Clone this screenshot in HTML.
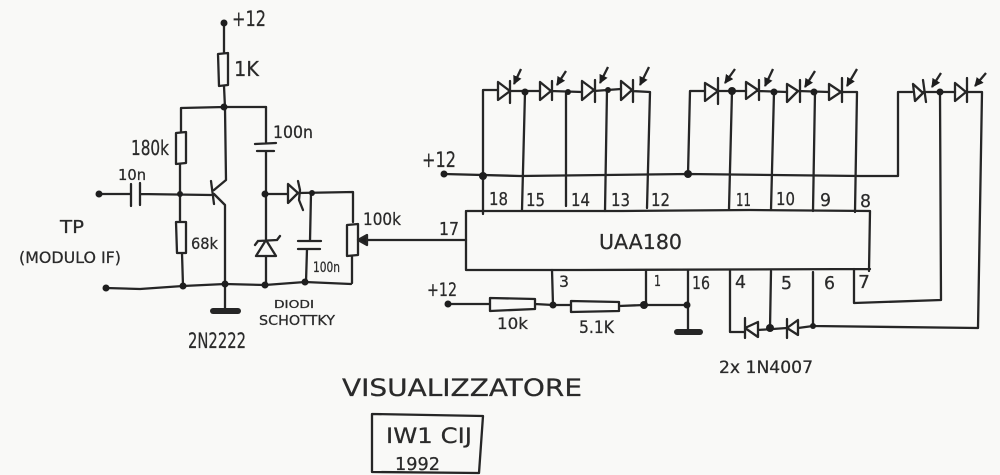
<!DOCTYPE html>
<html><head><meta charset="utf-8"><style>
html,body{margin:0;padding:0;background:#f9f9f7}
svg{display:block}
text{font-family:"DejaVu Sans","Liberation Sans",sans-serif;fill:#2a2a2a;stroke:#2a2a2a;stroke-width:.25}
</style></head><body>
<svg width="1000" height="475" viewBox="0 0 1000 475" xmlns="http://www.w3.org/2000/svg">
<defs>
<marker id="a" markerUnits="userSpaceOnUse" markerWidth="10" markerHeight="10" refX="8" refY="4.5" orient="auto"><path d="M0 0L9 4.5L0 9Z" fill="#1e1e1e"/></marker>
</defs>
<rect width="1000" height="475" fill="#f9f9f7"/>
<g fill="none" stroke="#262626" stroke-width="2.3" stroke-linejoin="round" stroke-linecap="round">
<!-- transistor stage -->
<path d="M224 23L224 53M224 86L225 108M181 108L224 107L266 107M181 108L181 132M180 164L180 194"/>
<path d="M218 54L228 53L228 85L219 86Z"/>
<path d="M176 133L186 132L186 163L176 164Z"/>
<path d="M99 194L131 194M140 194L211 195M131 184L131 206M140 183L140 205"/>
<path d="M211 181L214 204M214 190L226 180L225 108M214 194L225 205L225 285"/>
<path d="M180 194L180 222M176 222L186 222L186 253L177 253ZM182 253L183 286"/>
<path d="M266 107L266 143M255 144L276 143M257 151L274 151M266 151L266 240M266 256L266 285"/>
<path d="M266 240L256 256L276 256ZM258 241L277 240L280 236M258 241L255 245"/>
<path d="M265 194L288 194M288 184L288 203L298 193ZM298 181L300 190L299 200L303 210M298 193L353 192L353 222"/>
<path d="M311 193L310 241M298 241L321 241M298 249L320 249M307 249L306 282"/>
<path d="M347 225L358 224L358 255L347 256ZM352 256L352 283"/>
<path d="M106 288L140 289L183 286L225 284L265 285L305 282L351 284"/>
<path d="M225 284L225 311"/>
<path d="M213 311L238 311" stroke-width="6"/>
<!-- input to IC -->
<path d="M362 240L466 240"/>
<path d="M467 211L622 211L750 210L870 211L869 271M466 211L466 270L580 270L870 269"/>
<path d="M367 235L358 240L367 245Z" fill="#1e1e1e"/>
<!-- +12 rail -->
<path d="M444 174L520 176L688 174L860 176L898 176L898 92L912 92"/>
<!-- LED group 1 -->
<path d="M483 214L483 90L498 90M498 82L498 100L510 91ZM510 81L510 103M510 91L540 91M525 92L522 210"/>
<path d="M540 82L540 100L551 91ZM552 81L552 100M551 91L582 92M566 92L566 206"/>
<path d="M582 81L582 100L594 90ZM595 80L595 102M594 91L621 89M607 90L605 211"/>
<path d="M621 81L621 100L632 90ZM633 80L633 102M632 91L650 92L647 208"/>
<!-- LED group 2 -->
<path d="M688 174L690 91L705 91M705 83L705 101L718 91ZM718 78L718 104M718 91L746 91M732 91L729 209"/>
<path d="M746 82L746 99L758 90ZM759 80L759 100M758 91L787 92M774 92L771 210"/>
<path d="M787 84L787 102L798 91ZM800 80L800 102M798 91L829 92M815 92L813 211"/>
<path d="M829 84L829 100L841 92ZM842 78L842 102M841 92L857 92L855 212"/>
<!-- LED group 3 -->
<path d="M913 84L915 101L923 93ZM923 80L926 102M923 92L955 92M940 92L941 300L854 303L854 269"/>
<path d="M955 83L955 101L966 92ZM967 78L967 102M966 92L982 92L978 328L813 326L813 272"/>
<!-- bottom resistors -->
<path d="M448 304L490 304M490 298L535 299L535 309L490 311ZM535 304L553 305L552 270"/>
<path d="M553 305L571 305M571 301L619 302L619 311L571 312ZM619 306L644 305L687 305M646 305L646 270"/>
<path d="M688 270L688 331"/>
<path d="M677 332L700 332" stroke-width="6"/>
<!-- bottom diodes -->
<path d="M730 270L730 332L745 332M745 318L745 338M745 328L758 322L758 337ZM758 330L787 328M771 271L770 328M787 319L787 338M787 328L798 320L798 335ZM798 328L813 326"/>
<!-- title box -->
<path d="M372 414L483 416L479 473L372 472Z"/>
</g>
<!-- LED arrows -->
<g stroke="#262626" stroke-width="2.3">
<path d="M521 69L514 84" marker-end="url(#a)"/>
<path d="M566 71L557 85" marker-end="url(#a)"/>
<path d="M608 67L600 83" marker-end="url(#a)"/>
<path d="M649 67L640 85" marker-end="url(#a)"/>
<path d="M735 69L725 83" marker-end="url(#a)"/>
<path d="M773 69L765 86" marker-end="url(#a)"/>
<path d="M815 71L805 87" marker-end="url(#a)"/>
<path d="M857 69L847 86" marker-end="url(#a)"/>
<path d="M941 73L932 87" marker-end="url(#a)"/>
<path d="M986 73L975 86" marker-end="url(#a)"/>
</g>
<!-- junction dots -->
<g fill="#1e1e1e">
<circle cx="224" cy="23" r="3.5"/><circle cx="224" cy="107" r="3.5"/><circle cx="99" cy="194" r="3.5"/>
<circle cx="180" cy="194" r="3"/><circle cx="265" cy="194" r="3.5"/><circle cx="312" cy="193" r="3"/>
<circle cx="106" cy="288" r="3.5"/><circle cx="183" cy="286" r="3.5"/><circle cx="225" cy="284" r="3.5"/>
<circle cx="265" cy="285" r="3.5"/><circle cx="305" cy="282" r="3.5"/>
<circle cx="444" cy="174" r="3.5"/><circle cx="483" cy="176" r="4"/><circle cx="688" cy="174" r="4"/>
<circle cx="525" cy="92" r="3.5"/><circle cx="568" cy="92" r="3"/><circle cx="608" cy="90" r="3"/>
<circle cx="732" cy="91" r="4"/><circle cx="774" cy="92" r="3.5"/><circle cx="814" cy="92" r="3.5"/>
<circle cx="940" cy="92" r="3.5"/>
<circle cx="448" cy="304" r="3.5"/><circle cx="553" cy="305" r="3.5"/><circle cx="644" cy="305" r="4"/><circle cx="687" cy="305" r="3.5"/>
<circle cx="770" cy="328" r="4"/><circle cx="813" cy="326" r="3"/>
</g>
<!-- labels -->
<text lengthAdjust="spacingAndGlyphs" x="232" y="26" font-size="21" textLength="34">+12</text>
<text lengthAdjust="spacingAndGlyphs" x="234" y="76" font-size="20" textLength="25">1K</text>
<text lengthAdjust="spacingAndGlyphs" x="131" y="155" font-size="20" textLength="38">180k</text>
<text lengthAdjust="spacingAndGlyphs" x="118" y="180" font-size="15" textLength="28">10n</text>
<text lengthAdjust="spacingAndGlyphs" x="273" y="138" font-size="17" textLength="40">100n</text>
<text lengthAdjust="spacingAndGlyphs" x="60" y="233" font-size="18" textLength="24">TP</text>
<text lengthAdjust="spacingAndGlyphs" x="19" y="263" font-size="16" textLength="102">(MODULO IF)</text>
<text lengthAdjust="spacingAndGlyphs" x="191" y="249" font-size="16" textLength="27">68k</text>
<text lengthAdjust="spacingAndGlyphs" x="313" y="272" font-size="14" textLength="27">100n</text>
<text lengthAdjust="spacingAndGlyphs" x="363" y="225" font-size="17" textLength="38">100k</text>
<text lengthAdjust="spacingAndGlyphs" x="274" y="308" font-size="11" textLength="40">DIODI</text>
<text lengthAdjust="spacingAndGlyphs" x="259" y="325" font-size="13" textLength="76">SCHOTTKY</text>
<text lengthAdjust="spacingAndGlyphs" x="188" y="348" font-size="21" textLength="58">2N2222</text>
<text lengthAdjust="spacingAndGlyphs" x="342" y="396" font-size="24" textLength="240">VISUALIZZATORE</text>
<text lengthAdjust="spacingAndGlyphs" x="386" y="443" font-size="21" textLength="86">IW1 CIJ</text>
<text lengthAdjust="spacingAndGlyphs" x="395" y="470" font-size="18" textLength="45">1992</text>
<text lengthAdjust="spacingAndGlyphs" x="439" y="235" font-size="18" textLength="20">17</text>
<text lengthAdjust="spacingAndGlyphs" x="599" y="249" font-size="20" textLength="83">UAA180</text>
<text lengthAdjust="spacingAndGlyphs" x="489" y="205" font-size="18" textLength="19">18</text>
<text lengthAdjust="spacingAndGlyphs" x="526" y="206" font-size="18" textLength="19">15</text>
<text lengthAdjust="spacingAndGlyphs" x="571" y="206" font-size="18" textLength="19">14</text>
<text lengthAdjust="spacingAndGlyphs" x="611" y="206" font-size="18" textLength="19">13</text>
<text lengthAdjust="spacingAndGlyphs" x="651" y="206" font-size="18" textLength="19">12</text>
<text lengthAdjust="spacingAndGlyphs" x="736" y="206" font-size="18" textLength="15">11</text>
<text lengthAdjust="spacingAndGlyphs" x="776" y="205" font-size="18" textLength="19">10</text>
<text lengthAdjust="spacingAndGlyphs" x="820" y="206" font-size="18" textLength="11">9</text>
<text lengthAdjust="spacingAndGlyphs" x="860" y="207" font-size="18" textLength="11">8</text>
<text lengthAdjust="spacingAndGlyphs" x="422" y="167" font-size="21" textLength="34">+12</text>
<text lengthAdjust="spacingAndGlyphs" x="427" y="296" font-size="19" textLength="30">+12</text>
<text lengthAdjust="spacingAndGlyphs" x="559" y="287" font-size="16" textLength="10">3</text>
<text lengthAdjust="spacingAndGlyphs" x="654" y="286" font-size="15" textLength="7">1</text>
<text lengthAdjust="spacingAndGlyphs" x="692" y="289" font-size="18" textLength="18">16</text>
<text lengthAdjust="spacingAndGlyphs" x="735" y="288" font-size="18" textLength="11">4</text>
<text lengthAdjust="spacingAndGlyphs" x="781" y="289" font-size="18" textLength="11">5</text>
<text lengthAdjust="spacingAndGlyphs" x="824" y="289" font-size="18" textLength="11">6</text>
<text lengthAdjust="spacingAndGlyphs" x="858" y="288" font-size="18" textLength="12">7</text>
<text lengthAdjust="spacingAndGlyphs" x="497" y="329" font-size="16" textLength="31">10k</text>
<text lengthAdjust="spacingAndGlyphs" x="579" y="333" font-size="17" textLength="35">5.1K</text>
<text lengthAdjust="spacingAndGlyphs" x="719" y="373" font-size="17" textLength="94">2x 1N4007</text>
</svg>
</body></html>
